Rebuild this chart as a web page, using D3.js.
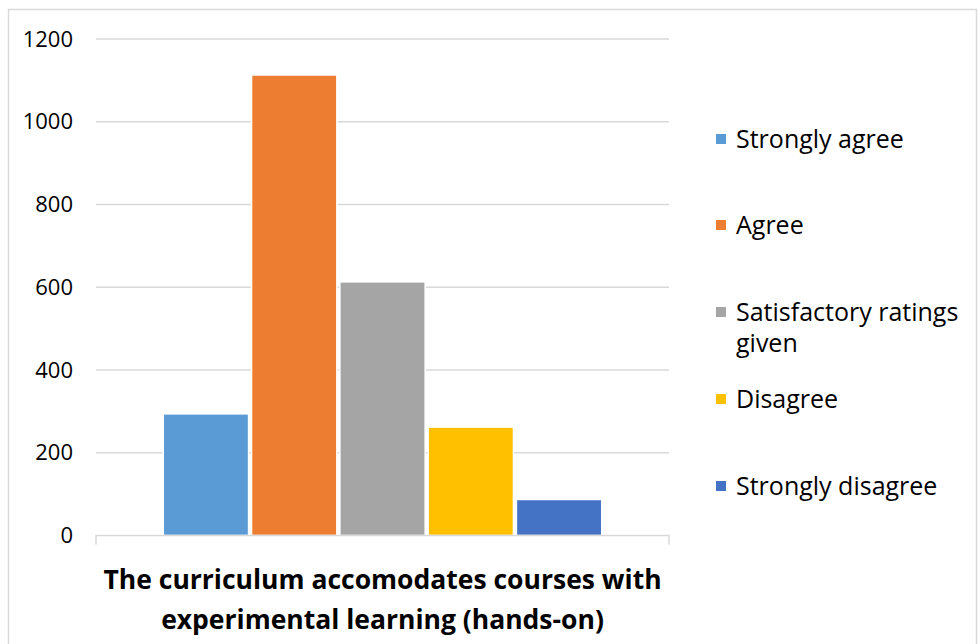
<!DOCTYPE html>
<html lang="en">
<head>
<meta charset="utf-8" />
<script type="text/javascript" src="https://d3js.org/d3.v7.min.js"></script>
<style type="text/css">
  body { margin: 0; background: #fff; }
  text { font-family: "Open Sans", "Noto Sans", sans-serif; fill: #000; }
</style>
</head>
<body>
<script type="text/javascript">

var series = ["Strongly agree", "Agree", "Satisfactory ratings given", "Disagree", "Strongly disagree"];
var legendLines = [["Strongly agree"], ["Agree"], ["Satisfactory ratings", "given"], ["Disagree"], ["Strongly disagree"]];
var values = [294, 1113, 613, 262, 87];
var colors = ["#5B9BD5", "#ED7D31", "#A5A5A5", "#FFC000", "#4472C4"];
var yTicks = [0, 200, 400, 600, 800, 1000, 1200];
var titleLines = ["The curriculum accomodates courses with", "experimental learning (hands-on)"];

var w = 978, h = 644;
var plotLeft = 96, plotRight = 669, plotTop = 39, plotBottom = 535.5;

var svg = d3.select("body")
            .append("svg")
            .attr("width", w)
            .attr("height", h);

// chart border
svg.append("rect")
   .attr("x", 8.5).attr("y", 9.5)
   .attr("width", w - 10).attr("height", h)
   .attr("fill", "none")
   .attr("stroke", "#D9D9D9")
   .attr("stroke-width", 1.5);

var y = d3.scaleLinear().domain([0, 1200]).range([plotBottom, plotTop]);
var x = d3.scaleBand().domain(series)
          .range([plotLeft, plotRight])
          .paddingOuter(0.745).paddingInner(0);

// gridlines
svg.selectAll("line.grid")
   .data(yTicks.slice(1))
   .enter()
   .append("line")
   .attr("class", "grid")
   .attr("x1", plotLeft).attr("x2", plotRight)
   .attr("y1", function(d) { return y(d); })
   .attr("y2", function(d) { return y(d); })
   .attr("stroke", "#D9D9D9")
   .attr("stroke-width", 1.5);

// y tick labels
svg.selectAll("text.ytick")
   .data(yTicks)
   .enter()
   .append("text")
   .attr("class", "ytick")
   .attr("x", 73)
   .attr("y", function(d) { return y(d); })
   .attr("dy", "0.35em")
   .style("text-anchor", "end")
   .style("font-size", "22px")
   .text(function(d) { return d; });

// bars
svg.selectAll("rect.bar")
   .data(values)
   .enter()
   .append("rect")
   .attr("class", "bar")
   .attr("x", function(d, i) { return x(series[i]) + 1.5; })
   .attr("y", function(d) { return y(d); })
   .attr("width", x.bandwidth() - 3)
   .attr("height", function(d) { return plotBottom - y(d); })
   .attr("fill", function(d, i) { return colors[i]; })
   .attr("stroke", "#fff")
   .attr("stroke-width", 1.5)
   .append("title")
   .text(function(d, i) { return series[i] + ": " + d; });

// x axis line and end ticks
svg.append("path")
   .attr("d", "M" + plotLeft + "," + (plotBottom + 9) + "V" + plotBottom + "H" + plotRight + "V" + (plotBottom + 9))
   .attr("fill", "none")
   .attr("stroke", "#D9D9D9")
   .attr("stroke-width", 1.5);

// axis title
svg.selectAll("text.title")
   .data(titleLines)
   .enter()
   .append("text")
   .attr("class", "title")
   .attr("x", (plotLeft + plotRight) / 2)
   .attr("y", function(d, i) { return 580 + i * 40; })
   .attr("dy", "0.35em")
   .style("text-anchor", "middle")
   .style("font-size", "26.5px")
   .style("font-weight", "bold")
   .text(function(d) { return d; });

// legend
var legendY = [139, 225, 312, 399, 486];
var legend = svg.selectAll("g.legend")
   .data(series)
   .enter()
   .append("g")
   .attr("class", "legend")
   .attr("transform", function(d, i) { return "translate(716," + legendY[i] + ")"; });

legend.append("rect")
   .attr("x", 0).attr("y", -5)
   .attr("width", 10).attr("height", 10)
   .attr("fill", function(d, i) { return colors[i]; });

legend.each(function(d, i) {
    var g = d3.select(this);
    legendLines[i].forEach(function(line, j) {
        g.append("text")
         .attr("x", 20)
         .attr("y", j * 31)
         .attr("dy", "0.35em")
         .style("font-size", "25px")
         .text(line);
    });
});

</script>
</body>
</html>
